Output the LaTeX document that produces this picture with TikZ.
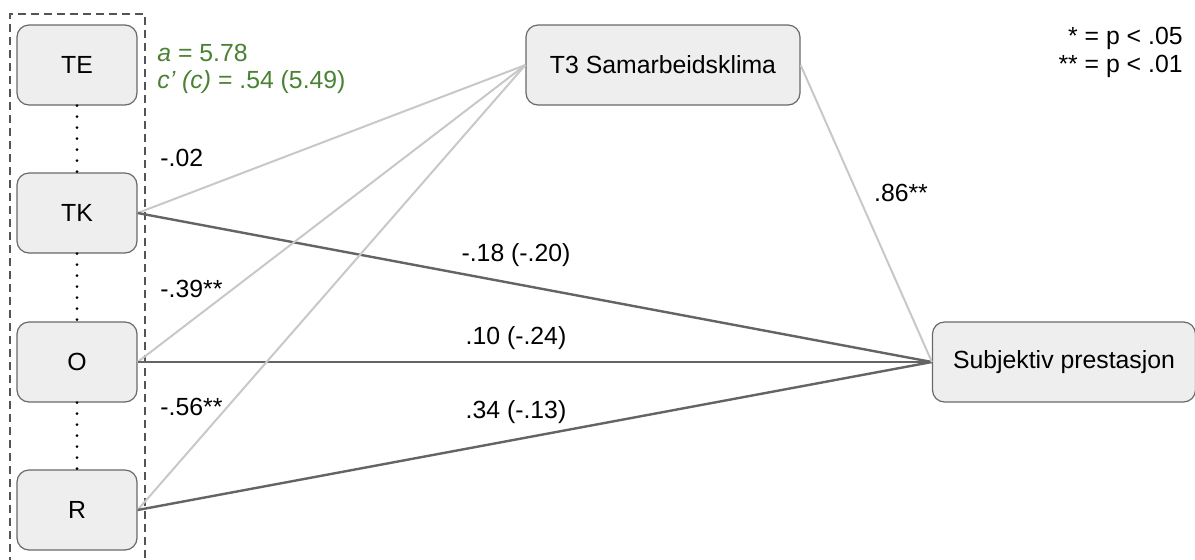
\documentclass[tikz,border=0pt]{standalone}
\usepackage{fontspec}
\setmainfont{Liberation Sans}
\usepackage{tikz}
\definecolor{BoxFill}{RGB}{238,238,238}
\definecolor{BoxLine}{RGB}{105,105,105}
\definecolor{PathLight}{RGB}{200,200,200}
\definecolor{PathDark}{RGB}{100,100,100}
\definecolor{MyGreen}{RGB}{72,130,50}

\begin{document}
\begin{tikzpicture}[x=0.5pt,y=-0.5pt,
    varbox/.style={draw=BoxLine,fill=BoxFill,rounded corners=6pt,line width=0.6pt,
      minimum width=60pt,minimum height=40pt,font=\fontsize{12.4}{14}\selectfont},
    coef/.style={font=\fontsize{12.4}{14}\selectfont,inner sep=0pt},
    lightpath/.style={PathLight,line width=1pt},
    darkpath/.style={PathDark,line width=1.2pt}]
  \useasboundingbox (0,0) rectangle (1195,559);
  % group of predictors
  \draw[BoxLine!80!black,dashed,line width=0.6pt,dash pattern=on 4pt off 2.5pt]
    (10,565) -- (10,14) -- (145,14) -- (145,565);
  \foreach \name/\y in {TE/65, TK/213, O/362, R/510}
    \node[varbox] (\name) at (77,\y) {\name};
  \foreach \a/\b in {TE/TK, TK/O, O/R}
    \draw[black,line width=1.5pt,dash pattern=on 0pt off 5.5pt,line cap=round] (\a) -- (\b);
  % mediator and outcome
  \node[varbox,minimum width=137pt] (T3) at (663,65) {T3 Samarbeidsklima};
  \node[varbox,minimum width=131.5pt] (SP) at (1064,362) {Subjektiv prestasjon};
  \foreach \x in {TK,O,R} {
    \draw[lightpath] (\x.east) -- (T3.west);
    \draw[darkpath] (\x.east) -- (SP.west);
  }
  \draw[lightpath] (T3.east) -- (SP.west);
  % coefficients
  \node[coef,anchor=west,text=MyGreen] (lba) at (157,53) {\textit{a} = 5.78};
  \node[coef,anchor=west,text=MyGreen] (lbc) at (157,82) {\textit{c’ (c)} = .54 (5.49)};
  \node[coef,anchor=west] (la1) at (160,158) {-.02};
  \node[coef,anchor=west] (la2) at (160,289) {-.39**};
  \node[coef,anchor=west] (la3) at (160,407) {-.56**};
  \node[coef] (lc1) at (516,255) {-.18 (-.20)};
  \node[coef] (lc2) at (516,338) {.10 (-.24)};
  \node[coef] (lc3) at (516,412) {.34 (-.13)};
  \node[coef] (lb) at (901,193) {.86**};
  % legend
  \node[coef,anchor=east] (sig1) at (1183,38) {* = p < .05};
  \node[coef,anchor=east] (sig2) at (1183,66) {** = p < .01};
\end{tikzpicture}
\end{document}
